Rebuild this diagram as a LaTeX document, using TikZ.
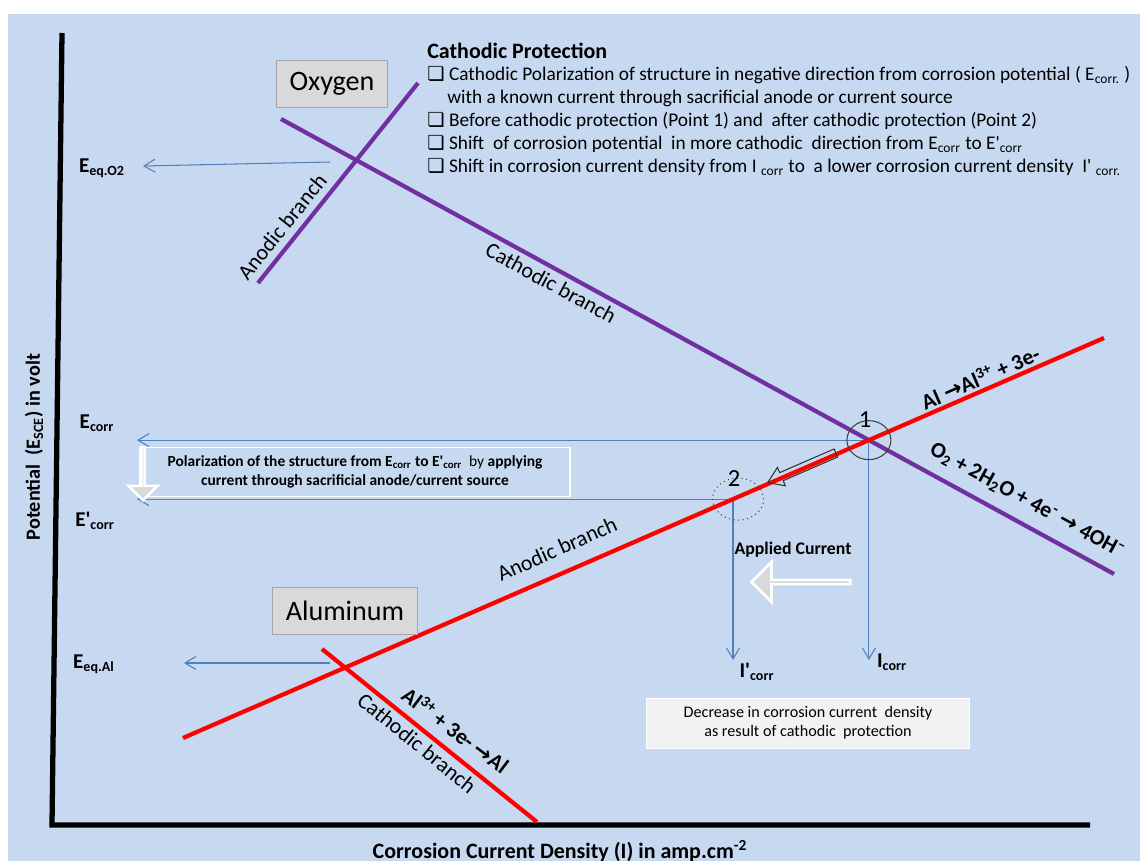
\documentclass[tikz,border=0pt]{standalone}
\usepackage{fontspec}
\setmainfont{Carlito}
\newfontfamily\dingfont{DejaVu Sans}
\usepackage{tikz}
\usetikzlibrary{positioning, calc, arrows.meta, shapes.geometric, shapes.arrows}

\newcommand{\sqbullet}{{\dingfont\char"274F}}
\newcommand{\pr}{\textquotesingle}
\newcommand{\rarr}{{\dingfont\bfseries\char"2192}}

\begin{document}
\begin{tikzpicture}[x=0.02cm, y=-0.02cm, font=\fontsize{11}{13}\selectfont, >={Straight Barb[length=2.2mm, width=2.6mm]},
        purpleline/.style={draw=oxpurple, line width=2.4pt},
        redline/.style={draw=alred, line width=2.4pt},
        guide/.style={draw=guideblue, line width=0.6pt},
        axisline/.style={draw=black, line width=3pt},
        elabel/.style={font=\fontsize{12}{14}\selectfont\bfseries, inner sep=0pt},
        metalbox/.style={draw=gray!70, fill=boxgray, minimum height=0.94cm, font=\fontsize{16}{18}\selectfont},
        branch/.style={font=\fontsize{12.5}{14}\selectfont, inner sep=0pt},
        reaction/.style={font=\fontsize{12.5}{14}\selectfont\bfseries, inner sep=0pt},
        note/.style={align=center, inner sep=0pt},
        listline/.style={anchor=west, inner sep=0pt},
        blockarrow/.style={single arrow, fill=boxgray, draw=white, line width=1.5pt, inner sep=0pt}]
        % Define colors
        \definecolor{bgblue}{RGB}{198,217,240}
        \definecolor{oxpurple}{RGB}{112,48,160}
        \definecolor{alred}{RGB}{255,0,0}
        \definecolor{guideblue}{RGB}{79,129,189}
        \definecolor{boxgray}{RGB}{217,217,217}
        \definecolor{notegray}{RGB}{242,242,242}

        \useasboundingbox (0,0) rectangle (1140,861);
        \fill[bgblue] (8,14) rectangle (1140,861);

        % Axes
        \coordinate (ytop) at (62,33);
        \coordinate (origin) at (52,825);
        \coordinate (xend) at (1090,825);
        \draw[axisline] (ytop) -- (origin) -- (xend);
        \node[rotate=90, font=\fontsize{11.5}{13}\selectfont\bfseries] (ylabel) at (34,447) {Potential \ (E\textsubscript{SCE}) in volt};
        \node[font=\fontsize{12.5}{14}\selectfont\bfseries] (xlabel) at (560,851) {Corrosion Current Density (I) in amp.cm\textsuperscript{-2}};

        % Branch lines
        \coordinate (oxA1) at (258,283);
        \coordinate (oxA2) at (418,83);
        \coordinate (oxC1) at (281,119);
        \coordinate (oxC2) at (1114,574);
        \coordinate (alA1) at (183,738);
        \coordinate (alA2) at (1104,338);
        \coordinate (alC1) at (322,649);
        \coordinate (alC2) at (537,822);
        \coordinate (p1) at (intersection of oxC1--oxC2 and alA1--alA2);
        \coordinate (p2) at ($(alA1)!0.5972!(alA2)$);

        % Guide arrows
        \coordinate (eqO2start) at (330,162);
        \coordinate (eqO2tip) at (143,166);
        \coordinate (eqAlstart) at (330,663);
        \coordinate (eqAltip) at (184,663);
        \coordinate (ecorrtip) at (137,441);
        \coordinate (icorrtip) at (866,660);
        \draw[guide, ->] (eqO2start) -- (eqO2tip);
        \draw[guide, ->] (eqAlstart) -- (eqAltip);
        \draw[guide, ->] (p1) -- (ecorrtip |- p1);
        \draw[guide, ->] (p2) -- (ecorrtip |- p2);
        \draw[guide, ->] (p1) -- (p1 |- icorrtip);
        \draw[guide, ->] (p2) -- (p2 |- icorrtip);

        \draw[purpleline] (oxA1) -- (oxA2);
        \draw[purpleline] (oxC1) -- (oxC2);
        \draw[redline] (alA1) -- (alA2);
        \draw[redline] (alC1) -- (alC2);

        % Shift of the operating point (hollow arrow along the anodic line)
        \coordinate (shtail) at ($(alA1)!0.708!(alA2) + (0.8,-1.8)$);
        \coordinate (shtip) at ($(alA1)!0.634!(alA2) + (0.8,-1.8)$);
        \coordinate (shhead) at ($(shtip)!8.5pt!(shtail)$);
        \draw[draw=black!80, line width=0.6pt, line join=miter]
            ($(shtail)!2.5pt!90:(shtip)$) -- ($(shhead)!2.5pt!-90:(shtail)$) -- ($(shhead)!5.7pt!-90:(shtail)$)
            -- (shtip) -- ($(shhead)!5.7pt!90:(shtail)$) -- ($(shhead)!2.5pt!90:(shtail)$) -- ($(shtail)!2.5pt!-90:(shtip)$) -- cycle;

        % Potential and current labels
        \node[elabel] (eO2) at (102,168) {E\textsubscript{eq.O2}};
        \node[elabel] (ecorr) at (97,423) {E\textsubscript{corr}};
        \node[elabel] (ecorrp) at (95,521) {E\pr\textsubscript{corr}};
        \node[elabel] (eAl) at (94,664) {E\textsubscript{eq.Al}};
        \node[elabel] (icorrp) at (757,672) {I\pr\textsubscript{corr}};
        \node[elabel] (icorr) at (892,662) {I\textsubscript{corr}};

        % Points 1 and 2
        \node[draw=black!75, ellipse, line width=0.6pt, minimum width=0.88cm, minimum height=0.78cm] (ring1) at (p1) {};
        \node[draw=black!75, ellipse, dotted, line width=0.6pt, minimum width=1.02cm, minimum height=0.84cm] (ring2) at ($(p2)+(5,0)$) {};
        \node[font=\fontsize{14}{16}\selectfont, inner sep=0pt] (n1) at (865,420) {1};
        \node[font=\fontsize{14}{16}\selectfont, inner sep=0pt] (n2) at (734,479) {2};

        % Metal boxes
        \node[metalbox, minimum width=2.22cm] (oxygen) at (332,84) {Oxygen};
        \node[metalbox, minimum width=2.9cm] (aluminum) at (345,611) {Aluminum};

        % Branch and reaction labels
        \node[branch, rotate=51.3] (oxanodic) at (282,227) {Anodic branch};
        \node[branch, rotate=-28.6] (oxcathodic) at (551,283) {Cathodic branch};
        \node[branch, rotate=24] (alanodic) at (557,549) {Anodic branch};
        \node[branch, rotate=-39] (alcathodic) at (417,743) {Cathodic branch};
        \node[reaction, rotate=23.5] (alox) at (980,377) {Al \rarr Al\textsuperscript{3+} + 3e-};
        \node[reaction, rotate=-28.6] (o2red) at (1027,501) {O\textsubscript{2} + 2H\textsubscript{2}O + 4e\textsuperscript{-} \rarr{} 4OH\textsuperscript{--}};
        \node[reaction, rotate=-37] (alred) at (456,730) {Al\textsuperscript{3+} + 3e- \rarr Al};

        % Notes
        \node[note, font=\fontsize{8.8}{11}\selectfont, draw=white, line width=0.8pt, minimum width=8.6cm, minimum height=0.98cm] (polbox) at (355,472)
            {\textbf{Polarization of the structure from E\textsubscript{corr} to E\pr\textsubscript{corr}} \ by \textbf{applying}\\ \textbf{current through sacrificial anode/current source}};
        \node[blockarrow, shape border rotate=270, minimum height=1.06cm, minimum width=0.58cm, single arrow head extend=0.19cm] (downarrow) at (143,473) {};
        \node[note, font=\fontsize{9.2}{11}\selectfont, fill=notegray, draw=white, minimum width=6.46cm, minimum height=1cm] (decrease) at (808,723)
            {Decrease in corrosion current \ density\\ as result of cathodic \ protection};
        \node[font=\fontsize{10.1}{12}\selectfont\bfseries] (applied) at (793,550) {Applied Current};
        \node[blockarrow, shape border rotate=180, minimum height=1.98cm, minimum width=0.8cm, single arrow head extend=0.22cm] (leftarrow) at (802,582) {};

        % Cathodic protection list
        \node[listline, font=\fontsize{12.5}{14}\selectfont\bfseries] (cp0) at (427,51) {Cathodic Protection};
        \node[listline] (cp1) at (427,75) {\sqbullet{} Cathodic Polarization of structure in negative direction from corrosion potential ( E\textsubscript{corr.} )};
        \node[listline] (cp2) at (447,98) {with a known current through sacrificial anode or current source};
        \node[listline] (cp3) at (427,121) {\sqbullet{} Before cathodic protection (Point 1) and \ after cathodic protection (Point 2)};
        \node[listline] (cp4) at (427,144) {\sqbullet{} Shift \ of corrosion potential \ in more cathodic \ direction from E\textsubscript{corr} to E\pr\textsubscript{corr}};
        \node[listline] (cp5) at (427,167) {\sqbullet{} Shift in corrosion current density from I \textsubscript{corr} to \ a lower corrosion current density \ I\pr{} \textsubscript{corr.}};
    \end{tikzpicture}
\end{document}
